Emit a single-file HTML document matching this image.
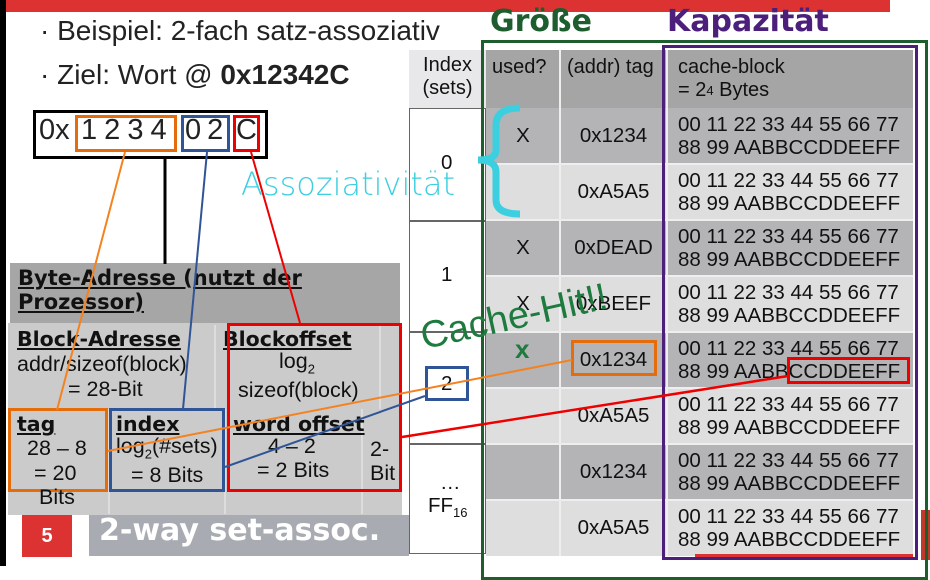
<!DOCTYPE html>
<html><head><meta charset="utf-8"><style>
*{margin:0;padding:0;box-sizing:border-box}
body{width:930px;height:566px;position:relative;overflow:hidden;background:#fff;font-family:"Liberation Sans","DejaVu Sans",sans-serif;color:#111}
.a{position:absolute;white-space:nowrap}
.b{font-family:"DejaVu Sans","Liberation Sans",sans-serif;font-weight:bold;text-decoration:underline}
.row{position:absolute;left:486px;width:427px;height:56px}
.c{position:absolute;top:0;height:56px;display:flex;align-items:center;justify-content:center;font-size:20.5px}
.blk{position:absolute;left:678px;font-size:20.5px;line-height:23px;top:6px}
.p{font-size:21.5px}
</style></head><body>
<div class="a" style="left:0;top:0;width:6px;height:566px;background:#000"></div>
<div class="a" style="left:6px;top:0;width:884px;height:12px;background:#dc3232"></div>
<div class="a" style="left:40px;top:15px;font-size:28px;color:#222">· Beispiel: 2-fach satz-assoziativ</div>
<div class="a" style="left:40px;top:59px;font-size:28px;color:#222">· Ziel: Wort @ <b>0x12342C</b></div>
<div class="a" style="left:33px;top:110px;width:235px;height:49px;border:3px solid #000"></div>
<div class="a" style="left:39px;top:114px;font-size:29px;color:#222">0x</div>
<div class="a" style="left:75px;top:115px;width:102px;height:37px;border:3px solid #e46c0a"></div>
<div class="a" style="left:181px;top:115px;width:49px;height:37px;border:3px solid #2f5597"></div>
<div class="a" style="left:233px;top:115px;width:27px;height:37px;border:3px solid #e00"></div>
<div class="a" style="left:81px;top:114px;font-size:29px;color:#222;word-spacing:-1px">1 2 3 4</div>
<div class="a" style="left:185px;top:114px;font-size:29px;color:#222;word-spacing:-2px">0 2</div>
<div class="a" style="left:236px;top:114px;font-size:29px;color:#222">C</div>

<div class="a" style="left:10px;top:263px;width:390px;height:70px;background:#a6a6a6"></div>
<div class="a b" style="left:18px;top:266px;font-size:21px;line-height:24px">Byte-Adresse (nutzt der<br>Prozessor)</div>
<div class="a" style="left:8px;top:323px;width:394px;height:192px;background:#cbcbcb"></div>
<div class="a" style="left:214px;top:325px;width:2px;height:84px;background:#ddd"></div>
<div class="a" style="left:379px;top:325px;width:2px;height:84px;background:#ddd"></div>
<div class="a" style="left:108px;top:409px;width:2px;height:105px;background:#ddd"></div>
<div class="a" style="left:224px;top:409px;width:2px;height:105px;background:#ddd"></div>
<div class="a" style="left:361px;top:409px;width:2px;height:105px;background:#ddd"></div>
<div class="a b" style="left:17px;top:327px;font-size:20.5px">Block-Adresse</div>
<div class="a p" style="left:17px;top:352px">addr/sizeof(block)</div>
<div class="a p" style="left:68px;top:377px">= 28-Bit</div>
<div class="a b" style="left:223px;top:327px;font-size:20.5px">Blockoffset</div>
<div class="a p" style="left:279px;top:349px">log<sub style="font-size:13px">2</sub></div>
<div class="a p" style="left:238px;top:378px">sizeof(block)</div>
<div class="a" style="left:227px;top:323px;width:175px;height:169px;border:3px solid #e00"></div>
<div class="a" style="left:8px;top:408px;width:100px;height:84px;border:3px solid #e46c0a"></div>
<div class="a" style="left:109px;top:408px;width:116px;height:84px;border:3px solid #2f5597"></div>
<div class="a b" style="left:17px;top:412px;font-size:20.5px">tag</div>
<div class="a p" style="left:27px;top:436px">28 – 8</div>
<div class="a p" style="left:34px;top:461px">= 20</div>
<div class="a p" style="left:39px;top:485px">Bits</div>
<div class="a b" style="left:116px;top:412px;font-size:20.5px">index</div>
<div class="a p" style="left:116px;top:434px">log<sub style="font-size:13px">2</sub>(#sets)</div>
<div class="a p" style="left:131px;top:463px">= 8 Bits</div>
<div class="a b" style="left:233px;top:412px;font-size:20.5px">word offset</div>
<div class="a p" style="left:268px;top:434px">4 – 2</div>
<div class="a p" style="left:257px;top:458px">= 2 Bits</div>
<div class="a p" style="left:370px;top:437px;line-height:24px">2-<br>Bit</div>

<div class="a" style="left:22px;top:515px;width:50px;height:42px;background:#dc3232;color:#fff;font-weight:bold;font-size:20px;display:flex;align-items:center;justify-content:center">5</div>
<div class="a" style="left:89px;top:515px;width:320px;height:41px;background:#a8acb2"></div>
<div class="a" style="left:99px;top:513px;font-size:30px;font-weight:bold;color:#fff;font-family:'DejaVu Sans',sans-serif">2-way set-assoc.</div>

<div class="a" style="left:409px;top:50px;width:77px;height:58px;background:#e8e8ea;font-size:20px;text-align:center;padding-top:4px;line-height:23px">Index<br>(sets)</div>
<div class="a" style="left:409px;top:108px;width:77px;height:446px;border:1.5px solid #666;background:#fff"></div>
<div class="a" style="left:409px;top:220px;width:77px;height:1.5px;background:#666"></div>
<div class="a" style="left:409px;top:331px;width:77px;height:1.5px;background:#666"></div>
<div class="a" style="left:409px;top:443px;width:77px;height:1.5px;background:#666"></div>
<div class="a" style="left:441px;top:151px;font-size:20.5px">0</div>
<div class="a" style="left:441px;top:263px;font-size:20.5px">1</div>
<div class="a" style="left:425px;top:366px;width:44px;height:35px;border:3px solid #2f5597;background:#fff"></div>
<div class="a" style="left:441px;top:372px;font-size:20.5px">2</div>
<div class="a" style="left:440px;top:471px;font-size:20.5px">…</div>
<div class="a" style="left:428px;top:494px;font-size:20.5px">FF<sub style="font-size:13px">16</sub></div>

<div class="row" style="top:50px;height:58px;background:#a5a5a5"></div>
<div class="a" style="left:492px;top:56px;font-size:20px">used?</div>
<div class="a" style="left:567px;top:56px;font-size:20px">(addr) tag</div>
<div class="a" style="left:678px;top:56px;font-size:20px;line-height:23px">cache-block<br>= 2<span style="font-size:13px;vertical-align:top">4</span> Bytes</div>

<div class="row" style="top:108px;background:#b4b4b6"><div class="c" style="left:0;width:74px">X</div><div class="c" style="left:74px;width:107px">0x1234</div></div>
<div class="row" style="top:164px;background:#dededf"><div class="c" style="left:74px;width:107px">0xA5A5</div></div>
<div class="row" style="top:220px;background:#b4b4b6"><div class="c" style="left:0;width:74px">X</div><div class="c" style="left:74px;width:107px">0xDEAD</div></div>
<div class="row" style="top:276px;background:#dededf"><div class="c" style="left:0;width:74px">X</div><div class="c" style="left:74px;width:107px">0xBEEF</div></div>
<div class="row" style="top:332px;background:#b4b4b6"><div class="c" style="left:74px;width:107px">0x1234</div></div>
<div class="row" style="top:388px;background:#dededf"><div class="c" style="left:74px;width:107px">0xA5A5</div></div>
<div class="row" style="top:444px;background:#b4b4b6"><div class="c" style="left:74px;width:107px">0x1234</div></div>
<div class="row" style="top:500px;background:#dededf"><div class="c" style="left:74px;width:107px">0xA5A5</div></div>
<div class="a" style="left:559px;top:50px;width:2px;height:506px;background:#eee"></div>
<div class="a" style="left:666px;top:50px;width:2px;height:506px;background:#eee"></div>
<div class="a" style="left:486px;top:163px;width:427px;height:1.5px;background:#eee"></div>
<div class="a" style="left:486px;top:219px;width:427px;height:1.5px;background:#eee"></div>
<div class="a" style="left:486px;top:275px;width:427px;height:1.5px;background:#eee"></div>
<div class="a" style="left:486px;top:331px;width:427px;height:1.5px;background:#eee"></div>
<div class="a" style="left:486px;top:387px;width:427px;height:1.5px;background:#eee"></div>
<div class="a" style="left:486px;top:443px;width:427px;height:1.5px;background:#eee"></div>
<div class="a" style="left:486px;top:499px;width:427px;height:1.5px;background:#eee"></div>
<div class="blk" style="top:113px">00 11 22 33 44 55 66 77<br>88 99 AABBCCDDEEFF</div>
<div class="blk" style="top:169px">00 11 22 33 44 55 66 77<br>88 99 AABBCCDDEEFF</div>
<div class="blk" style="top:225px">00 11 22 33 44 55 66 77<br>88 99 AABBCCDDEEFF</div>
<div class="blk" style="top:281px">00 11 22 33 44 55 66 77<br>88 99 AABBCCDDEEFF</div>
<div class="blk" style="top:337px">00 11 22 33 44 55 66 77<br>88 99 AABBCCDDEEFF</div>
<div class="blk" style="top:393px">00 11 22 33 44 55 66 77<br>88 99 AABBCCDDEEFF</div>
<div class="blk" style="top:449px">00 11 22 33 44 55 66 77<br>88 99 AABBCCDDEEFF</div>
<div class="blk" style="top:505px">00 11 22 33 44 55 66 77<br>88 99 AABBCCDDEEFF</div>
<div class="a" style="left:695px;top:554px;width:218px;height:3px;background:#dc3232"></div>
<div class="a" style="left:921px;top:510px;width:9px;height:50px;background:#c0392b"></div>

<div class="a" style="left:571px;top:340px;width:86px;height:36px;border:3px solid #e46c0a"></div>
<div class="a" style="left:787px;top:357px;width:123px;height:27px;border:3px solid #e00"></div>

<div class="a" style="left:481px;top:40px;width:447px;height:540px;border:3px solid #1e5e2e"></div>
<div class="a" style="left:662px;top:45px;width:256px;height:515px;border:3px solid #4b1f7a"></div>
<div class="a" style="left:490px;top:4px;font-size:30px;font-weight:bold;color:#1e5e2e;font-family:'DejaVu Sans',sans-serif">Größe</div>
<div class="a" style="left:667px;top:4px;font-size:30px;font-weight:bold;color:#4b1f7a;font-family:'DejaVu Sans',sans-serif">Kapazität</div>

<div class="a" style="left:241px;top:165px;font-size:32px;color:#3ccfe0;font-family:'DejaVu Sans',sans-serif;font-weight:300">Assoziativität</div>
<div class="a" style="left:515px;top:334px;font-size:26px;font-weight:bold;color:#1e7a3e">x</div>
<div class="a" style="left:426px;top:316px;font-size:38px;color:#1e7a3e;transform:rotate(-12.5deg);transform-origin:0 100%">Cache-Hit!!</div>

<svg class="a" style="left:0;top:0" width="930" height="566">
<line x1="125" y1="152" x2="57" y2="410" stroke="#f58220" stroke-width="2"/>
<line x1="165" y1="159" x2="165" y2="264" stroke="#000" stroke-width="3"/>
<line x1="207" y1="152" x2="183" y2="409" stroke="#2f5597" stroke-width="2"/>
<line x1="251" y1="152" x2="300" y2="323" stroke="#e00" stroke-width="2"/>
<line x1="108" y1="451" x2="572" y2="360" stroke="#f58220" stroke-width="2"/>
<line x1="225" y1="467" x2="425" y2="396" stroke="#2f5597" stroke-width="2"/>
<line x1="402" y1="437" x2="788" y2="376" stroke="#e00" stroke-width="2.5"/>
<path d="M520 108 Q496 108 496 125 L496 150 Q496 160 478 160 Q496 160 496 172 L496 200 Q496 214 520 214" fill="none" stroke="#3ccfe0" stroke-width="7"/>
</svg>
</body></html>
